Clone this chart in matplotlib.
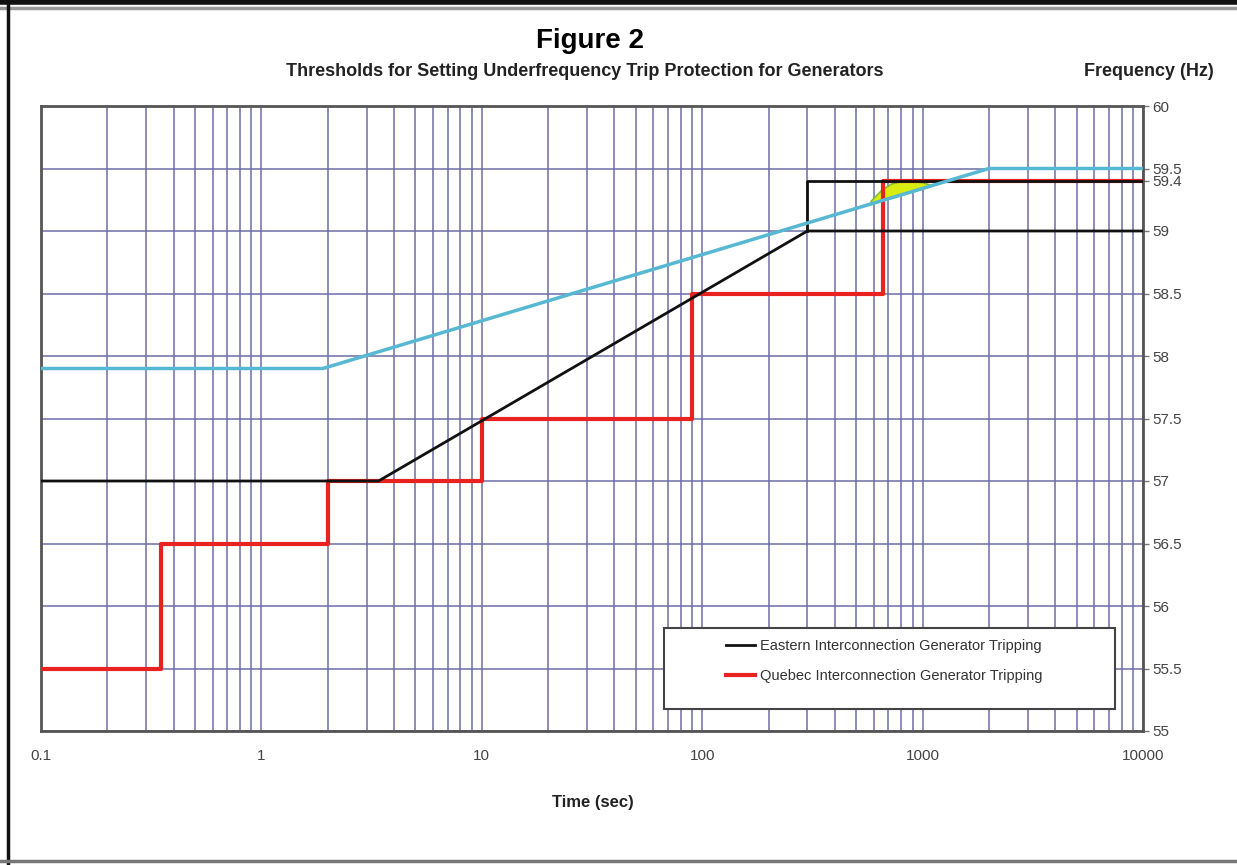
import matplotlib
matplotlib.use("Agg")
import matplotlib.pyplot as plt
from matplotlib.lines import Line2D
from matplotlib.patches import Rectangle
from matplotlib.ticker import FixedLocator, FixedFormatter, LogLocator, NullFormatter

plt.rcParams['font.family'] = ['Liberation Sans', 'DejaVu Sans']

# Eastern interconnection curve (black)
east_t = [0.1, 3.4, 300, 10000]
east_f = [57.0, 57.0, 59.0, 59.0]
east_box_t = [300, 300, 10000]
east_box_f = [59.0, 59.4, 59.4]

# Quebec interconnection steps (red)
quebec_t = [0.1, 0.35, 2, 10, 90, 660, 10000]
quebec_f = [55.5, 56.5, 57.0, 57.5, 58.5, 59.4, 59.4]

# third curve (cyan)
cyan_t = [0.1, 1.9, 2000, 10000]
cyan_f = [57.9, 57.9, 59.5, 59.5]

# yellow overlap area near 59.4 Hz
yel_t = [580, 650, 720, 800, 900, 1000, 1080]
yel_lo = [59.215, 59.242, 59.265, 59.289, 59.316, 59.34, 59.358]
yel_hi = [59.24, 59.33, 59.38, 59.40, 59.40, 59.39, 59.37]

x_ticks = [0.1, 1, 10, 100, 1000, 10000]
x_labels = ["0.1", "1", "10", "100", "1000", "10000"]
y_ticks = [55, 55.5, 56, 56.5, 57, 57.5, 58, 58.5, 59, 59.5, 60]
y_labels = ["55", "55.5", "56", "56.5", "57", "57.5", "58", "58.5", "59", "59.5", "60"]

fig = plt.figure(figsize=(12.37, 8.65), dpi=100)
ax = fig.add_axes([41/1237, 134/865, 1102/1237, 625/865])

grid_c = '#6e6ea8'
ax.set_xscale('log')
ax.set_xlim(0.1, 10000)
ax.set_ylim(55, 60)
ax.xaxis.set_major_locator(FixedLocator(x_ticks))
ax.xaxis.set_major_formatter(FixedFormatter(x_labels))
ax.xaxis.set_minor_locator(LogLocator(base=10, subs=range(2, 10)))
ax.xaxis.set_minor_formatter(NullFormatter())
ax.yaxis.set_major_locator(FixedLocator(y_ticks))
ax.yaxis.set_major_formatter(FixedFormatter(y_labels))
ax.yaxis.set_minor_locator(FixedLocator([59.4]))
ax.yaxis.set_minor_formatter(FixedFormatter(["59.4"]))
ax.yaxis.tick_right()
ax.grid(True, which='both', axis='x', color=grid_c, lw=1.3, alpha=0.85)
ax.grid(True, which='major', axis='y', color=grid_c, lw=1.3, alpha=0.85)
ax.tick_params(axis='x', which='both', length=0, pad=13, labelsize=11, labelcolor='#444444')
ax.tick_params(axis='y', which='both', length=4, width=1, color='#777777',
               pad=3, labelsize=11, labelcolor='#444444')
for s in ax.spines.values():
    s.set_color('#555555')
    s.set_linewidth(2)

ax.fill_between(yel_t, yel_lo, yel_hi, color='#d9ec10', edgecolor='#7fbf30', lw=1.2, zorder=3)
ax.plot(quebec_t, quebec_f, drawstyle='steps-post', color='#e8231f', lw=3, zorder=4,
        label='Quebec Interconnection Generator Tripping')
ax.plot(east_t, east_f, color='#111111', lw=2, zorder=5,
        label='Eastern Interconnection Generator Tripping')
ax.plot(east_box_t, east_box_f, color='#111111', lw=2, zorder=5)
ax.plot(cyan_t, cyan_f, color='#56b8d2', lw=2.5, zorder=6)

# legend box drawn separately, entries sit right of its left edge
ax.add_patch(Rectangle((623/1102, 22/625), 451/1102, 81/625, transform=ax.transAxes,
                       facecolor='white', edgecolor='#444444', lw=1.5, zorder=7))
h, l = ax.get_legend_handles_labels()
leg = ax.legend([h[1], h[0]], [l[1], l[0]],
                loc='center left', bbox_to_anchor=(678/1102, 70/625),
                fontsize=10.5, frameon=False, handlelength=2.0,
                handletextpad=0.3, labelspacing=1.15, borderpad=0)
leg.set_zorder(8)
for t in leg.get_texts():
    t.set_color('#333333')

fig.text(590/1237, 1 - 41/865, "Figure 2", ha='center', va='center', fontsize=20, weight='bold')
fig.text(585/1237, 1 - 71/865, "Thresholds for Setting Underfrequency Trip Protection for Generators",
         ha='center', va='center', fontsize=13, weight='bold', color='#222222')
fig.text(1149/1237, 1 - 72/865, "Frequency (Hz)", ha='center', va='center', fontsize=13,
         weight='bold', color='#222222')
fig.text(593/1237, 1 - 803/865, "Time (sec)", ha='center', va='center', fontsize=12,
         weight='bold', color='#222222')

# screenshot frame
fig.add_artist(Line2D([0, 1], [1 - 2/865, 1 - 2/865], color='#111111', lw=4, transform=fig.transFigure))
fig.add_artist(Line2D([0, 1], [1 - 8/865, 1 - 8/865], color='#999999', lw=2.5, transform=fig.transFigure))
fig.add_artist(Line2D([8/1237, 8/1237], [0, 1], color='#111111', lw=2.5, transform=fig.transFigure))
fig.add_artist(Line2D([0, 1], [4/865, 4/865], color='#777777', lw=2.5, transform=fig.transFigure))

fig.savefig("out.png", dpi=100)
